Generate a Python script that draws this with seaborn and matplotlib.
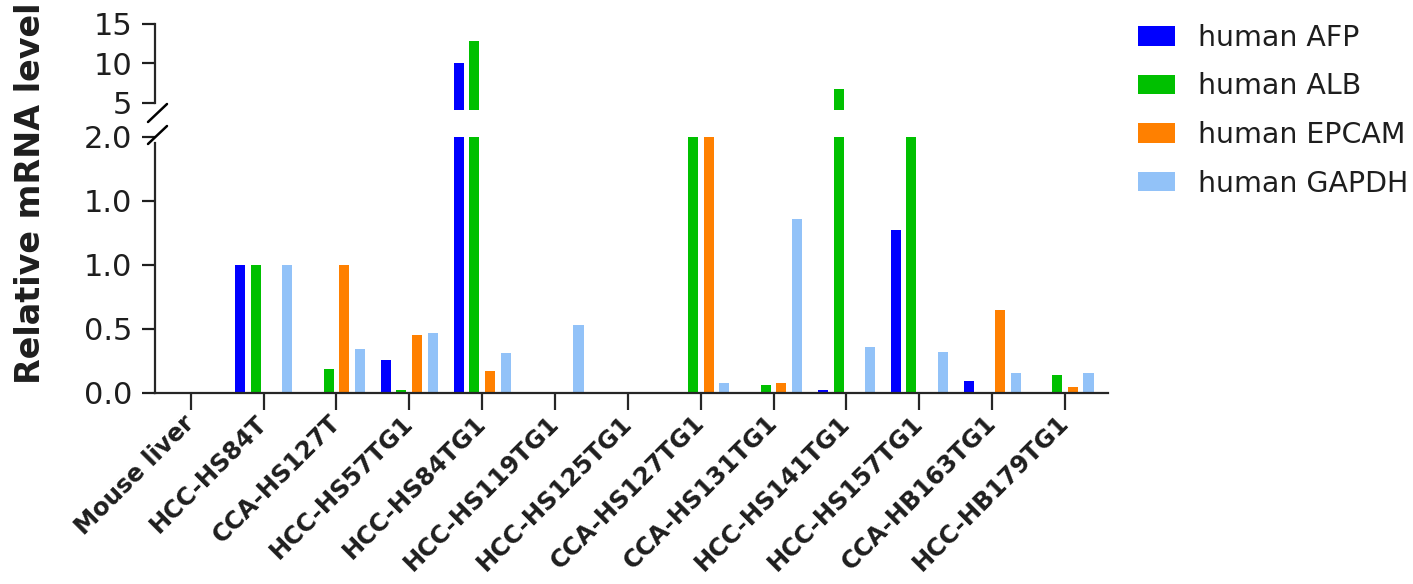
import matplotlib
matplotlib.use("Agg")
import matplotlib.pyplot as plt
import seaborn as sns
import pandas as pd
from matplotlib.lines import Line2D
from matplotlib.patches import Patch

samples = ["Mouse liver", "HCC-HS84T", "CCA-HS127T", "HCC-HS57TG1", "HCC-HS84TG1",
           "HCC-HS119TG1", "HCC-HS125TG1", "CCA-HS127TG1", "CCA-HS131TG1",
           "HCC-HS141TG1", "HCC-HS157TG1", "CCA-HB163TG1", "HCC-HB179TG1"]
genes = ["human AFP", "human ALB", "human EPCAM", "human GAPDH"]
afp = [0, 1.0, 0, 0.26, 10.0, 0, 0, 0, 0, 0.02, 1.27, 0.09, 0]
alb = [0, 1.0, 0.19, 0.02, 12.9, 0, 0, 3.0, 0.06, 6.7, 3.0, 0, 0.14]
epcam = [0, 0, 1.0, 0.45, 0.17, 0, 0, 3.0, 0.08, 0, 0, 0.65, 0.05]
gapdh = [0, 1.0, 0.34, 0.47, 0.31, 0.53, 0, 0.08, 1.36, 0.36, 0.32, 0.16, 0.16]
colors = ["#0000FF", "#00C000", "#FF8000", "#92C2F8"]
low_ticks = [0.0, 0.5, 1.0, 1.5, 2.0]
low_labels = ["0.0", "0.5", "1.0", "1.0", "2.0"]
high_ticks = [5, 10, 15]

rows = []
for g, vals in zip(genes, [afp, alb, epcam, gapdh]):
    for s, v in zip(samples, vals):
        rows.append({"sample": s, "gene": g, "value": v})
df = pd.DataFrame(rows)

sns.set_style("ticks")
plt.rcParams["font.family"] = ["DejaVu Sans"]

W, H = 1413, 584
fig = plt.figure(figsize=(W / 100, H / 100), dpi=100)

def fx(px):
    return px / W

def fy(py):
    return 1 - py / H

ax_lo = fig.add_axes([fx(155), fy(393), fx(1108) - fx(155), fy(137) - fy(393)])
ax_hi = fig.add_axes([fx(155), fy(110), fx(1108) - fx(155), fy(22) - fy(110)])

TXT = "#1e1e1e"
pal = dict(zip(genes, colors))
for ax in (ax_lo, ax_hi):
    sns.barplot(data=df, x="sample", y="value", hue="gene", hue_order=genes,
                order=samples, palette=pal, saturation=1, width=0.86, gap=0.36,
                linewidth=0, legend=False, ax=ax, errorbar=None)
    ax.set_xlim(-0.49, 12.59)
    ax.set_xlabel("")
    ax.set_ylabel("")
    for sp in ("top", "right"):
        ax.spines[sp].set_visible(False)
    ax.spines["left"].set_linewidth(1.6)
    ax.spines["bottom"].set_linewidth(1.6)
    ax.tick_params(axis="y", length=9.5, width=1.6, labelsize=22, pad=7,
                   colors=TXT)

ax_lo.set_ylim(0, 2.0)
ax_lo.set_yticks(low_ticks)
ax_lo.set_yticklabels(low_labels)
ax_lo.tick_params(axis="x", length=12, width=1.6, pad=7)
ax_lo.set_xticks(range(len(samples)))
ax_lo.set_xticklabels(samples, rotation=45, ha="right", va="center",
                      rotation_mode="anchor", fontsize=17.5, fontweight="bold",
                      color=TXT)
ax_lo.spines["left"].set_bounds(0, 1.95)

ax_hi.set_ylim(4.1, 15.25)
ax_hi.set_yticks(high_ticks)
ax_hi.spines["bottom"].set_visible(False)
ax_hi.spines["left"].set_bounds(5, 15)
ax_hi.tick_params(axis="x", bottom=False, labelbottom=False)
ax_hi.patch.set_alpha(0)

# break marks
for y0 in (122, 144):
    fig.add_artist(Line2D([fx(148), fx(167)], [fy(y0), fy(y0 - 18)],
                          transform=fig.transFigure, color="black", lw=1.8))

fig.text(fx(31), fy(193), "Relative mRNA level", rotation=90, ha="center",
         va="center", fontsize=24, fontweight="bold", color=TXT)

handles = [Patch(facecolor=c, edgecolor="none") for c in colors]
fig.legend(handles, genes, loc="upper left", bbox_to_anchor=(fx(1138), fy(24)),
           frameon=False, fontsize=20.5, handlelength=1.3, handleheight=0.65,
           handletextpad=0.8, labelspacing=0.72, borderpad=0, borderaxespad=0,
           labelcolor=TXT)

fig.savefig("out.png", dpi=100)
